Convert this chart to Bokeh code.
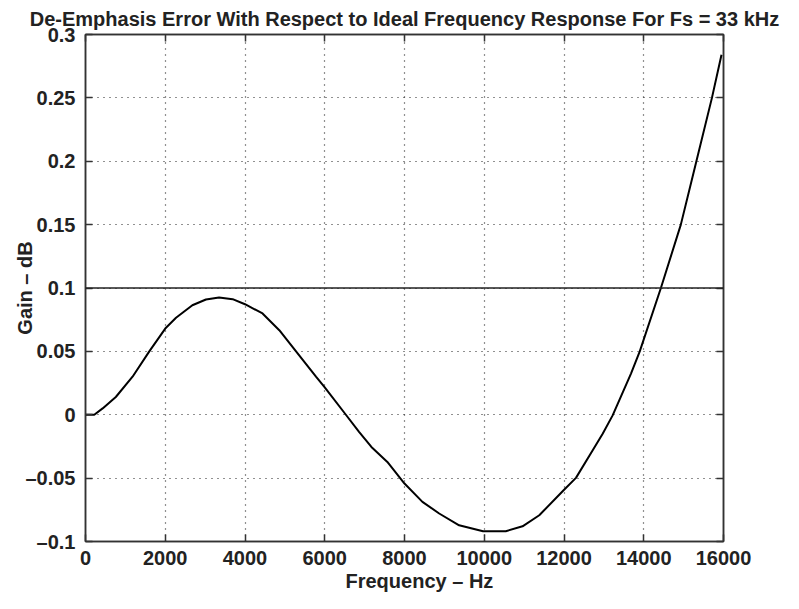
from bokeh.plotting import figure
from bokeh.models import LinearAxis, FixedTicker, Span, Range1d, Title
from bokeh.embed import file_html
from bokeh.resources import INLINE

# ---- data ----
freq_hz = [0, 220, 430, 760, 1180, 1600, 2000, 2270, 2680, 3020, 3350, 3690,
           4000, 4440, 4860, 5280, 5780, 5990, 6530, 6860, 7170, 7570, 8000,
           8450, 8870, 9370, 9970, 10540, 10960, 11380, 11990, 12300, 12720,
           12970, 13220, 13680, 13900, 14430, 14930, 15320, 15710, 15950]
gain_db = [0.0, 0.0, 0.005, 0.014, 0.030, 0.050, 0.068, 0.0765, 0.0864, 0.0909,
           0.0925, 0.0912, 0.0872, 0.0799, 0.0667, 0.050, 0.030, 0.022, 0.0,
           -0.0135, -0.0254, -0.0372, -0.0543, -0.0687, -0.0779, -0.0872,
           -0.0919, -0.0919, -0.088, -0.0793, -0.0596, -0.0498, -0.028, -0.015,
           -0.0005, 0.0325, 0.050, 0.100, 0.150, 0.200, 0.250, 0.284]
limit_db = 0.1

x_ticks = [0, 2000, 4000, 6000, 8000, 10000, 12000, 14000, 16000]
x_tick_labels = ["0", "2000", "4000", "6000", "8000", "10000", "12000", "14000", "16000"]
y_ticks = [-0.1, -0.05, 0.0, 0.05, 0.1, 0.15, 0.2, 0.25, 0.3]
y_tick_labels = ["\u20130.1", "\u20130.05", "0", "0.05", "0.1", "0.15", "0.2", "0.25", "0.3"]

title_text = "De-Emphasis Error With Respect to Ideal Frequency Response For Fs = 33 kHz"
x_label = "Frequency \u2013 Hz"
y_label = "Gain \u2013 dB"

FONT = "Liberation Sans"
FRAME = "#333333"
TEXT = "#222222"

p = figure(frame_width=638, frame_height=507,
           min_border_left=85, min_border_right=64, min_border_top=33, min_border_bottom=52,
           x_range=Range1d(x_ticks[0], x_ticks[-1]), y_range=Range1d(y_ticks[0], y_ticks[-1]),
           output_backend="svg", toolbar_location=None, title=title_text)

p.title.text_font = FONT
p.title.text_font_size = "20px"
p.title.text_font_style = "bold"
p.title.align = "center"
p.title.text_color = TEXT

p.outline_line_color = FRAME
p.outline_line_width = 1.5
p.background_fill_color = "white"
p.border_fill_color = "white"

for ax, ticks, labels in ((p.xaxis[0], x_ticks, x_tick_labels), (p.yaxis[0], y_ticks, y_tick_labels)):
    ax.ticker = FixedTicker(ticks=ticks)
    ax.major_label_overrides = {t: l for t, l in zip(ticks, labels)}
    ax.major_tick_in = 7
    ax.major_tick_out = 0
    ax.minor_tick_in = 0
    ax.minor_tick_out = 0
    ax.major_tick_line_color = FRAME
    ax.major_tick_line_width = 1.5
    ax.axis_line_color = FRAME
    ax.axis_line_width = 1.5
    ax.major_label_text_font = FONT
    ax.major_label_text_font_size = "20px"
    ax.major_label_text_font_style = "bold"
    ax.major_label_text_color = TEXT
    ax.major_label_standoff = 10
    ax.axis_label_text_font = FONT
    ax.axis_label_text_font_size = "20px"
    ax.axis_label_text_font_style = "bold"
    ax.axis_label_text_color = TEXT

p.xaxis[0].major_label_standoff = 9
p.yaxis[0].axis_label = y_label
p.yaxis[0].axis_label_standoff = -14

# x-axis title, sitting a little right of the frame centre as in the reference
p.add_layout(Title(text=x_label, align="left", offset=260, standoff=0,
                   text_font=FONT, text_font_size="20px", text_font_style="bold",
                   text_color=TEXT), "below")

# inward ticks on the top and right edges (no labels)
for loc, ticks in (("above", x_ticks), ("right", y_ticks)):
    ax = LinearAxis(ticker=FixedTicker(ticks=ticks),
                    major_label_text_font_size="1px", major_label_text_color=None,
                    major_label_standoff=0, major_tick_in=7, major_tick_out=0,
                    minor_tick_in=0, minor_tick_out=0,
                    major_tick_line_color=FRAME, major_tick_line_width=1.5,
                    axis_line_color=FRAME, axis_line_width=1.5)
    p.add_layout(ax, loc)

p.xgrid.ticker = FixedTicker(ticks=x_ticks)
p.ygrid.ticker = FixedTicker(ticks=y_ticks)
for g in (p.xgrid[0], p.ygrid[0]):
    g.grid_line_color = TEXT
    g.grid_line_dash = "1 5"
    g.grid_line_width = 1.2

p.add_layout(Span(location=limit_db, dimension="width", line_color=TEXT, line_width=1.5))

p.line(freq_hz, gain_db, line_color="black", line_width=2)

open("out.html", "w").write(file_html(p, INLINE))
